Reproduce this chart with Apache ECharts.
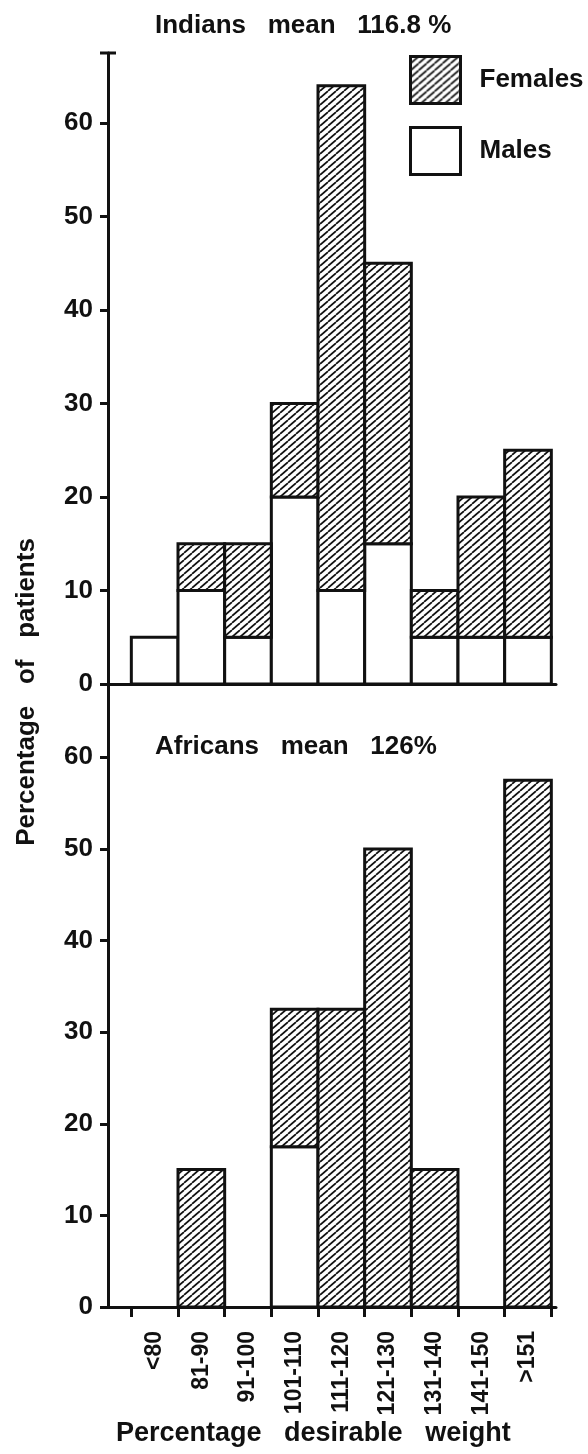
<!DOCTYPE html>
<html>
<head>
<meta charset="utf-8">
<script src="https://cdn.jsdelivr.net/npm/echarts@6/dist/echarts.min.js"></script>
<style>
  html, body { margin: 0; padding: 0; background: #fff; }
  #chart { width: 588px; height: 1454px; }
</style>
</head>
<body>
<div id="chart"></div>
<script>
// Weight classes (percentage of desirable weight)
const categories = ['<80', '81-90', '91-100', '101-110', '111-120', '121-130', '131-140', '141-150', '>151'];

// Indians: percentage of patients per class
const indianMales   = [5, 10, 5, 20, 10, 15, 5, 5, 5];
const indianFemales = [0, 5, 10, 10, 54, 30, 5, 15, 20];

// Africans: percentage of patients per class
const africanMales   = [0, 0, 0, 17.5, 0, 0, 0, 0, 0];
const africanFemales = [0, 15, 0, 15, 32.5, 50, 15, 0, 57.5];

const yTicks = [0, 10, 20, 30, 40, 50, 60];
const panelTitles = ['Indians   mean   116.8 %', 'Africans   mean   126%'];
const xName = 'Percentage   desirable   weight';
const yName = 'Percentage   of   patients';

const FONT = 'Liberation Sans';
const INK = '#111';

// Diagonal hatch tile used for the female segments
function makeHatch() {
  const w = 8, h = 7;
  const c = document.createElement('canvas');
  c.width = w; c.height = h;
  const ctx = c.getContext('2d');
  ctx.fillStyle = '#fff';
  ctx.fillRect(0, 0, w, h);
  ctx.strokeStyle = INK;
  ctx.lineWidth = 1.7;
  for (let k = -1; k <= 1; k++) {
    ctx.beginPath();
    ctx.moveTo(k * w, h);
    ctx.lineTo(k * w + w, 0);
    ctx.stroke();
  }
  return { image: c, repeat: 'repeat' };
}
const hatch = makeHatch();

// Stack segments: [class index, lower value, upper value]
function segments(heights, below) {
  return heights.map((v, i) => {
    const lo = below ? below[i] : 0;
    return [i, lo, lo + v];
  });
}

function renderSegment(fill) {
  return function (params, api) {
    const i = api.value(0), lo = api.value(1), hi = api.value(2);
    if (!(hi > lo)) return null;
    const p0 = api.coord([i - 0.5, hi]);
    const p1 = api.coord([i + 0.5, lo]);
    return {
      type: 'rect',
      shape: { x: p0[0], y: p0[1], width: p1[0] - p0[0], height: p1[1] - p0[1] },
      style: { fill: fill, stroke: INK, lineWidth: 3 }
    };
  };
}

const labelFont = { fontFamily: FONT, fontWeight: 'bold', color: INK };

function makeXAxis(gridIndex, showTicks) {
  const boundaries = categories.map((_, i) => i - 0.5).concat([categories.length - 0.5]);
  return {
    type: 'value', gridIndex: gridIndex, min: -1, max: 8.6,
    axisLine: { show: true, onZero: false, lineStyle: { color: INK, width: 3 } },
    axisTick: { show: showTicks, length: 10, lineStyle: { color: INK, width: 3 }, customValues: boundaries },
    axisLabel: {
      show: showTicks, rotate: 90, margin: 24, fontSize: 23, ...labelFont,
      customValues: categories.map((_, i) => i),
      formatter: v => categories[Math.round(v)]
    },
    splitLine: { show: false }
  };
}

function makeYAxis(gridIndex, max, cap) {
  return {
    type: 'value', gridIndex: gridIndex, min: 0, max: max, interval: 10,
    axisLine: {
      show: true, onZero: false, lineStyle: { color: INK, width: 3 },
      symbol: cap ? ['none', 'rect'] : ['none', 'none'], symbolSize: [16, 3]
    },
    axisTick: { show: true, length: 8, lineStyle: { color: INK, width: 3 }, customValues: yTicks },
    axisLabel: { margin: 15, fontSize: 26, ...labelFont, customValues: yTicks },
    splitLine: { show: false }
  };
}

const chart = echarts.init(document.getElementById('chart'), null, { renderer: 'canvas' });

const titleStyle = { fontFamily: FONT, fontWeight: 'bold', fontSize: 26, color: INK };

chart.setOption({
  animation: false,
  backgroundColor: '#fff',
  title: [
    { text: panelTitles[0], left: 155, top: 13, padding: 0, textStyle: titleStyle },
    { text: panelTitles[1], left: 155, top: 734, padding: 0, textStyle: titleStyle },
    { text: xName, left: 116, top: 1420, padding: 0, textStyle: { ...titleStyle, fontSize: 27 } }
  ],
  legend: {
    orient: 'vertical', left: 409, top: 55, padding: 0,
    itemWidth: 50, itemHeight: 47, itemGap: 21, icon: 'rect',
    selectedMode: false,
    textStyle: { fontFamily: FONT, fontWeight: 'bold', fontSize: 26, color: INK, padding: [0, 0, 0, 14] },
    data: [
      { name: 'Females', itemStyle: { color: hatch, borderColor: INK, borderWidth: 3 } },
      { name: 'Males', itemStyle: { color: '#fff', borderColor: INK, borderWidth: 3 } }
    ]
  },
  grid: [
    { left: 108, top: 53, width: 448, height: 631 },
    { left: 108, top: 684, width: 448, height: 623 }
  ],
  xAxis: [makeXAxis(0, false), makeXAxis(1, true)],
  yAxis: [makeYAxis(0, 67.5, true), makeYAxis(1, 68, false)],
  series: [
    {
      name: 'Males', type: 'custom', xAxisIndex: 0, yAxisIndex: 0,
      itemStyle: { color: '#fff' },
      encode: { x: 0, y: [1, 2] },
      renderItem: renderSegment('#fff'),
      data: segments(indianMales)
    },
    {
      name: 'Females', type: 'custom', xAxisIndex: 0, yAxisIndex: 0,
      itemStyle: { color: hatch },
      encode: { x: 0, y: [1, 2] },
      renderItem: renderSegment(hatch),
      data: segments(indianFemales, indianMales)
    },
    {
      name: 'Males', type: 'custom', xAxisIndex: 1, yAxisIndex: 1,
      itemStyle: { color: '#fff' },
      encode: { x: 0, y: [1, 2] },
      renderItem: renderSegment('#fff'),
      data: segments(africanMales)
    },
    {
      name: 'Females', type: 'custom', xAxisIndex: 1, yAxisIndex: 1,
      itemStyle: { color: hatch },
      encode: { x: 0, y: [1, 2] },
      renderItem: renderSegment(hatch),
      data: segments(africanFemales, africanMales)
    }
  ],
  graphic: [
    {
      type: 'text', x: 27, y: 692, rotation: Math.PI / 2,
      style: {
        text: yName, fill: INK, align: 'center', verticalAlign: 'middle',
        font: 'bold 26px "' + FONT + '"'
      }
    }
  ]
});
</script>
</body>
</html>
